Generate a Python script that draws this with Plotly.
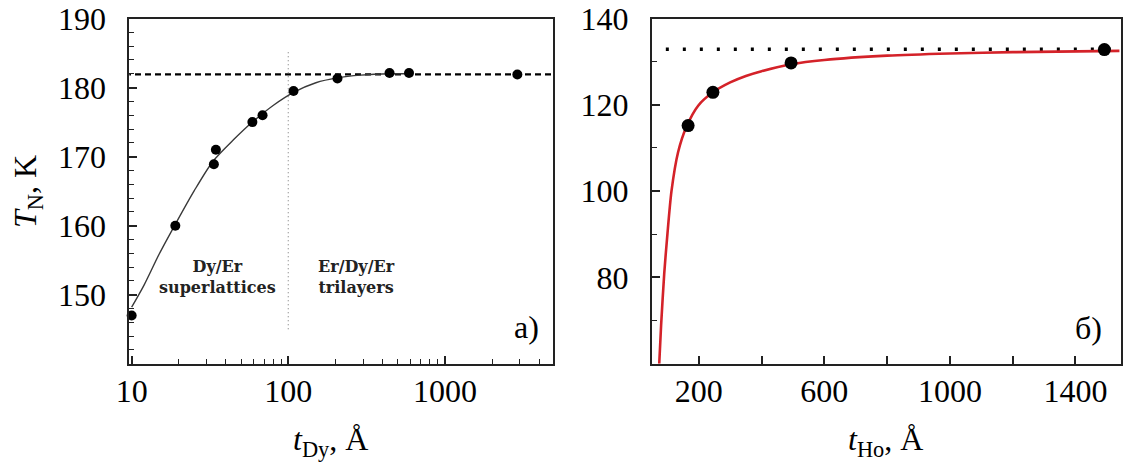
import plotly.graph_objects as go

# ---------------- data ----------------
# panel a) Dy/Er : Neel temperature vs Dy layer thickness (log x)
t_dy = [10, 19, 33.5, 34.5, 59, 68.5, 108, 206, 443, 590, 2900]
tn_dy = [147.0, 160.0, 168.9, 171.0, 175.0, 176.0, 179.5, 181.3, 182.1, 182.1, 181.9]
fit_dy_x = [10, 12, 15, 19, 25, 33, 45, 59, 80, 108, 150, 205, 290, 450, 600]
fit_dy_y = [148.2, 151.4, 155.9, 160.2, 165.0, 169.3, 172.5, 175.0, 177.4, 179.3,
            180.7, 181.4, 181.8, 182.0, 182.0]
tn_dy_bulk = 181.9
t_boundary = 100
boundary_span = [145.0, 185.3]

# panel б) Ho : Neel temperature vs Ho layer thickness
t_ho = [166, 245, 494, 1492]
tn_ho = [115.2, 122.9, 129.7, 132.8]
fit_ho_x = [74, 80, 90, 100, 113, 134, 160, 198, 245, 300, 350, 400, 494, 600,
            800, 1000, 1200, 1540]
fit_ho_y = [60, 69, 81, 90, 100, 109, 114.8, 119.8, 122.9, 125.2, 126.7, 127.8,
            129.4, 130.4, 131.4, 131.9, 132.2, 132.5]
tn_ho_bulk = 132.9
ho_bulk_x = [95, 1540]

# tick labels
xa_ticks = [10, 100, 1000]
xa_minor = [20, 30, 40, 50, 60, 70, 80, 90, 200, 300, 400, 500, 600, 700, 800, 900,
            2000, 3000, 4000]
ya_ticks = [150, 160, 170, 180, 190]
xb_ticks = [200, 600, 1000, 1400]
yb_ticks = [80, 100, 120, 140]

# ---------------- figure ----------------
W, H = 1123, 463
SERIF = "Liberation Serif"
AX = "#222222"

fig = go.Figure()

# panel a
fig.add_trace(go.Scatter(x=[1, 1e5], y=[tn_dy_bulk, tn_dy_bulk], mode="lines",
                         line=dict(color="black", width=2.2, dash="6px,4px"),
                         xaxis="x", yaxis="y", hoverinfo="skip"))
fig.add_trace(go.Scatter(x=[t_boundary, t_boundary], y=boundary_span, mode="lines",
                         line=dict(color="#8a8a8a", width=1.2, dash="1px,3px"),
                         xaxis="x", yaxis="y", hoverinfo="skip"))
fig.add_trace(go.Scatter(x=fit_dy_x, y=fit_dy_y, mode="lines",
                         line=dict(color="#3a3a3a", width=1.4, shape="spline", smoothing=0.8),
                         xaxis="x", yaxis="y"))
fig.add_trace(go.Scatter(x=t_dy, y=tn_dy, mode="markers",
                         marker=dict(color="black", size=10),
                         xaxis="x", yaxis="y", cliponaxis=False))

# panel б
fig.add_trace(go.Scatter(x=ho_bulk_x, y=[tn_ho_bulk, tn_ho_bulk], mode="lines",
                         line=dict(color="black", width=3.5, dash="3px,14px"),
                         xaxis="x2", yaxis="y2", hoverinfo="skip"))
fig.add_trace(go.Scatter(x=fit_ho_x, y=fit_ho_y, mode="lines",
                         line=dict(color="#d42229", width=2.6, shape="spline", smoothing=0.7),
                         xaxis="x2", yaxis="y2"))
fig.add_trace(go.Scatter(x=t_ho, y=tn_ho, mode="markers",
                         marker=dict(color="black", size=13),
                         xaxis="x2", yaxis="y2", cliponaxis=False))

def px_x(p):
    return p / W

def px_y(p):
    return 1 - p / H

ydom = [px_y(363.8), px_y(18.5)]

def tickfont():
    return dict(family=SERIF, size=32, color="black")

def common():
    return dict(showline=True, mirror=True, linecolor=AX, linewidth=1.8,
                showgrid=False, zeroline=False, ticks="inside", tickcolor=AX,
                ticklen=8, tickwidth=1.5, tickfont=tickfont(), automargin=False)

fig.update_layout(
    width=W, height=H,
    margin=dict(l=0, r=0, t=0, b=0, pad=0, autoexpand=False),
    font=dict(family=SERIF, size=30, color="black"),
    paper_bgcolor="white", plot_bgcolor="white", showlegend=False,
)
fig.update_layout(xaxis=dict(domain=[px_x(129.3), px_x(553)], anchor="y", type="log",
               range=[0.985, 3.69], tickmode="array", tickvals=xa_ticks,
               ticktext=[str(v) for v in xa_ticks], ticklabelstandoff=-2,
               minor=dict(tickmode="array", tickvals=xa_minor, ticks="inside",
                          ticklen=5, tickcolor=AX, tickwidth=1.2),
               **common()))
fig.update_layout(yaxis=dict(domain=ydom, anchor="x", range=[140, 190], tickmode="array",
               tickvals=ya_ticks, ticktext=[str(v) for v in ya_ticks],
               ticklabelstandoff=15,
               minor=dict(dtick=2, tick0=140, ticks="inside", ticklen=5,
                          tickcolor=AX, tickwidth=1.2),
               **common()))
fig.update_layout(xaxis2=dict(domain=[px_x(651.7), px_x(1121)], anchor="y2", range=[50, 1545],
                tickmode="array", tickvals=xb_ticks,
                ticktext=[str(v) for v in xb_ticks], ticklabelstandoff=-2,
                minor=dict(dtick=200, tick0=0, ticks="inside", ticklen=8,
                           tickcolor=AX, tickwidth=1.5),
                **common()))
fig.update_layout(yaxis2=dict(domain=ydom, anchor="x2", range=[60, 140], tickmode="array",
                tickvals=yb_ticks, ticktext=[str(v) for v in yb_ticks],
                ticklabelstandoff=15,
                minor=dict(dtick=10, tick0=0, ticks="inside", ticklen=5,
                           tickcolor=AX, tickwidth=1.2),
                **common()))

titlefont = dict(family=SERIF, size=32, color="black")
ann = [
    dict(text="<i>T</i><sub>N</sub>, K", x=px_x(27), y=px_y(192), textangle=-90,
         font=titlefont),
    dict(text="<i>t</i><sub>Dy</sub>, Å", x=px_x(330), y=px_y(441), font=titlefont),
    dict(text="<i>t</i><sub>Ho</sub>, Å", x=px_x(885), y=px_y(441), font=titlefont),
    dict(text="a)", x=px_x(526), y=px_y(327), font=titlefont),
    dict(text="б)", x=px_x(1088), y=px_y(328), font=titlefont),
    dict(text="<b>Dy/Er<br>superlattices</b>", x=px_x(217), y=px_y(277),
         font=dict(family="DejaVu Serif", size=16, color="#222")),
    dict(text="<b>Er/Dy/Er<br>trilayers</b>", x=px_x(356), y=px_y(277),
         font=dict(family="DejaVu Serif", size=16, color="#222")),
]
for a in ann:
    a.update(xref="paper", yref="paper", showarrow=False, xanchor="center",
             yanchor="middle")
fig.update_layout(annotations=ann)

fig.write_html("out.html")
